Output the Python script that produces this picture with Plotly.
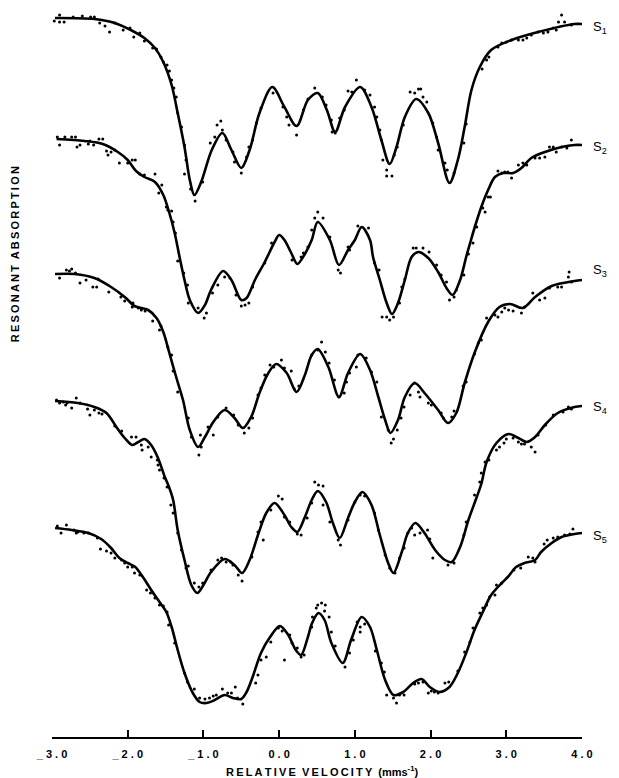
import plotly.graph_objects as go

# Relative velocity (mm/s) vs. resonant absorption (arbitrary units, 0 = baseline,
# positive = more absorption).  Fitted envelopes and measured points per sample.

S1_FIT = [(-2.96, 0.0), (-2.44, 0.1), (-2.17, 0.5), (-1.91, 1.4), (-1.78, 2.0), (-1.64, 3.0),
          (-1.53, 4.4), (-1.42, 6.7), (-1.34, 9.5), (-1.25, 12.9), (-1.18, 16.2), (-1.12, 17.7),
          (-1.03, 16.4), (-0.89, 13.2), (-0.75, 11.5), (-0.63, 13.2), (-0.50, 15.0), (-0.39, 13.2),
          (-0.26, 9.5), (-0.09, 6.9), (0.07, 8.9), (0.23, 10.8), (0.38, 8.2), (0.51, 7.5),
          (0.63, 9.2), (0.74, 11.4), (0.87, 8.9), (1.07, 6.9), (1.22, 8.9), (1.35, 12.2),
          (1.46, 14.6), (1.55, 12.9), (1.66, 9.9), (1.81, 8.1), (1.97, 9.5), (2.10, 12.5),
          (2.25, 16.5), (2.36, 14.2), (2.45, 10.9), (2.54, 7.2), (2.65, 4.9), (2.80, 3.2),
          (3.07, 2.2), (3.42, 1.4), (3.90, 0.6), (4.00, 0.6)]

S2_FIT = [(-2.94, 0.0), (-2.57, 0.2), (-2.33, 0.5), (-2.13, 1.3), (-2.00, 2.1), (-1.89, 3.2),
          (-1.78, 3.8), (-1.64, 4.3), (-1.53, 5.6), (-1.45, 7.4), (-1.38, 9.4), (-1.31, 12.0),
          (-1.25, 14.1), (-1.18, 16.1), (-1.07, 17.4), (-0.98, 16.6), (-0.90, 15.1), (-0.74, 13.2),
          (-0.63, 14.1), (-0.50, 16.1), (-0.43, 15.9), (-0.32, 14.1), (-0.19, 12.3), (-0.06, 10.3),
          (0.00, 9.6), (0.07, 10.1), (0.16, 11.4), (0.24, 12.5), (0.34, 11.5), (0.43, 10.1),
          (0.51, 8.3), (0.67, 10.1), (0.79, 12.6), (0.91, 11.1), (1.00, 10.1), (1.09, 8.8),
          (1.20, 10.1), (1.24, 11.8), (1.33, 14.1), (1.42, 16.4), (1.49, 17.5), (1.57, 16.4),
          (1.66, 14.1), (1.75, 11.8), (1.84, 11.3), (1.97, 11.9), (2.10, 13.3), (2.21, 14.9),
          (2.29, 15.6), (2.39, 14.1), (2.47, 11.8), (2.53, 10.2), (2.58, 8.9), (2.67, 6.8),
          (2.76, 5.1), (2.85, 3.8), (2.96, 3.4), (3.09, 3.4), (3.20, 2.9), (3.33, 1.9),
          (3.51, 1.3), (3.73, 0.8), (3.90, 0.6), (4.00, 0.6)]

S3_FIT = [(-2.96, 0.0), (-2.70, 0.0), (-2.44, 0.4), (-2.22, 1.3), (-2.04, 2.3), (-1.91, 3.2),
          (-1.82, 3.4), (-1.73, 3.6), (-1.62, 4.4), (-1.53, 5.8), (-1.45, 7.9), (-1.36, 10.3),
          (-1.27, 12.6), (-1.18, 15.6), (-1.07, 17.3), (-0.98, 16.3), (-0.87, 14.8), (-0.72, 13.6),
          (-0.59, 14.4), (-0.48, 15.4), (-0.37, 14.3), (-0.26, 11.9), (-0.15, 10.0), (-0.04, 9.0),
          (0.10, 9.9), (0.23, 11.8), (0.34, 10.1), (0.43, 8.1), (0.51, 7.5), (0.65, 9.3),
          (0.79, 12.3), (0.91, 9.9), (1.07, 8.0), (1.20, 9.6), (1.31, 12.3), (1.40, 14.6),
          (1.47, 15.9), (1.57, 14.6), (1.66, 12.3), (1.79, 10.9), (1.92, 11.9), (2.10, 13.6),
          (2.23, 14.9), (2.34, 13.9), (2.45, 10.9), (2.58, 7.9), (2.76, 4.8), (2.91, 3.3),
          (3.05, 3.0), (3.22, 3.4), (3.38, 2.3), (3.60, 1.2), (3.90, 0.7), (4.00, 0.6)]

S4_FIT = [(-2.96, 0.0), (-2.66, 0.2), (-2.44, 0.6), (-2.28, 1.2), (-2.15, 2.6), (-2.04, 3.7),
          (-1.94, 4.4), (-1.86, 4.1), (-1.78, 3.8), (-1.69, 4.4), (-1.60, 5.7), (-1.51, 7.6),
          (-1.46, 8.5), (-1.40, 9.9), (-1.34, 12.9), (-1.25, 15.9), (-1.16, 18.4), (-1.08, 19.2),
          (-1.00, 18.4), (-0.90, 17.1), (-0.72, 15.8), (-0.59, 16.4), (-0.49, 17.2), (-0.39, 15.9),
          (-0.28, 13.4), (-0.17, 11.2), (-0.06, 10.2), (0.07, 11.4), (0.16, 12.6), (0.24, 13.1),
          (0.34, 11.6), (0.43, 9.9), (0.51, 9.0), (0.62, 10.1), (0.71, 12.2), (0.80, 13.7),
          (0.91, 11.7), (1.00, 10.1), (1.10, 9.1), (1.22, 10.4), (1.33, 13.4), (1.44, 16.2),
          (1.51, 17.2), (1.62, 15.1), (1.70, 13.2), (1.80, 12.2), (1.92, 13.2), (2.06, 14.9),
          (2.19, 15.9), (2.28, 16.1), (2.39, 14.6), (2.50, 11.9), (2.61, 9.6), (2.67, 8.3),
          (2.74, 6.1), (2.87, 4.2), (3.03, 3.3), (3.16, 3.7), (3.27, 4.1), (3.38, 3.6),
          (3.51, 2.4), (3.68, 1.2), (3.90, 0.6), (4.00, 0.5)]

S5_FIT = [(-2.96, 0.0), (-2.74, 0.2), (-2.52, 0.5), (-2.35, 1.1), (-2.22, 2.0), (-2.11, 3.0),
          (-2.00, 3.5), (-1.90, 3.9), (-1.80, 4.9), (-1.69, 6.2), (-1.58, 7.4), (-1.49, 8.4),
          (-1.42, 9.9), (-1.34, 12.2), (-1.25, 14.5), (-1.14, 16.5), (-1.05, 17.4), (-0.96, 17.5),
          (-0.85, 17.2), (-0.72, 16.7), (-0.61, 17.0), (-0.50, 17.1), (-0.43, 16.4), (-0.35, 14.9),
          (-0.24, 12.5), (-0.12, 10.9), (0.01, 9.8), (0.12, 10.7), (0.22, 12.2), (0.29, 12.7),
          (0.38, 10.9), (0.43, 9.6), (0.52, 8.5), (0.60, 9.2), (0.69, 11.5), (0.84, 13.5),
          (0.95, 11.2), (1.09, 8.9), (1.20, 9.9), (1.29, 12.2), (1.40, 15.2), (1.51, 16.7),
          (1.64, 16.4), (1.77, 15.5), (1.88, 15.1), (1.99, 15.9), (2.12, 16.4), (2.25, 15.9),
          (2.36, 14.5), (2.47, 12.5), (2.58, 10.2), (2.69, 8.4), (2.80, 6.7), (2.94, 5.5),
          (3.02, 4.9), (3.13, 3.9), (3.24, 3.5), (3.38, 3.2), (3.46, 2.4), (3.60, 1.5),
          (3.73, 0.9), (3.90, 0.6), (4.00, 0.5)]

S1_POINTS = [(-2.97, 0.3), (-2.90, -0.3), (-2.90, 0.4), (-2.84, 0.4), (-2.72, -0.1), (-2.60, -0.2),
             (-2.49, -0.1), (-2.44, -0.1), (-2.37, 0.5), (-2.30, 0.8), (-2.24, 1.4), (-2.17, 0.5),
             (-2.06, 1.2), (-1.97, 1.0), (-1.92, 1.9), (-1.84, 1.5), (-1.78, 2.3), (-1.67, 3.0),
             (-1.62, 3.1), (-1.56, 3.9), (-1.53, 4.4), (-1.48, 4.7), (-1.45, 5.3), (-1.42, 6.2),
             (-1.39, 7.0), (-1.36, 7.9), (-1.34, 9.5), (-1.29, 10.9), (-1.25, 12.7), (-1.23, 14.2),
             (-1.25, 15.6), (-1.17, 17.1), (-1.11, 18.3), (-1.01, 16.4), (-0.91, 12.5), (-0.85, 11.9),
             (-0.82, 10.7), (-0.77, 10.3), (-0.75, 11.2), (-0.70, 12.2), (-0.61, 13.4), (-0.59, 14.4),
             (-0.50, 15.5), (-0.43, 13.9), (-0.40, 12.9), (-0.35, 12.2), (-0.30, 10.5), (-0.24, 9.0),
             (-0.08, 7.5), (0.05, 8.9), (0.10, 9.9), (0.13, 10.7), (0.23, 11.7), (0.32, 9.2),
             (0.38, 8.1), (0.47, 7.0), (0.57, 7.9), (0.62, 8.7), (0.69, 10.2), (0.70, 11.4),
             (0.74, 11.5), (0.80, 10.0), (0.86, 9.2), (0.91, 7.3), (0.96, 7.4), (1.02, 6.2),
             (1.13, 7.2), (1.20, 7.7), (1.26, 8.9), (1.29, 9.9), (1.33, 11.2), (1.35, 12.2),
             (1.37, 14.2), (1.42, 15.2), (1.42, 15.8), (1.49, 15.8), (1.52, 13.7), (1.56, 12.9),
             (1.64, 10.7), (1.73, 7.4), (1.79, 7.5), (1.84, 7.1), (1.87, 7.1), (1.90, 7.9),
             (1.95, 8.4), (2.03, 10.5), (2.08, 11.9), (2.10, 13.2), (2.19, 14.5), (2.22, 15.2),
             (2.31, 15.5), (2.44, 12.5), (2.47, 10.6), (2.68, 5.1), (2.74, 4.2), (2.77, 3.9),
             (2.89, 2.9), (2.94, 2.5), (3.00, 2.4), (3.07, 2.2), (3.16, 2.2), (3.22, 2.2),
             (3.27, 2.0), (3.33, 1.7), (3.42, 1.4), (3.49, 1.5), (3.55, 1.4), (3.62, 1.0),
             (3.66, 1.2), (3.69, 0.4), (3.73, -0.3), (3.77, 0.4), (3.86, 0.7)]

S2_POINTS = [(-2.93, -0.2), (-2.90, 0.6), (-2.83, -0.2), (-2.74, -0.2), (-2.69, -0.2), (-2.67, 0.8),
             (-2.63, 0.6), (-2.52, 0.5), (-2.50, 0.2), (-2.45, 0.6), (-2.38, 0.0), (-2.33, 0.0),
             (-2.28, 1.2), (-2.26, 1.6), (-2.22, 1.3), (-2.17, 1.1), (-2.11, 2.4), (-2.00, 2.4),
             (-1.94, 2.1), (-1.90, 2.1), (-1.84, 3.5), (-1.78, 3.6), (-1.64, 3.5), (-1.59, 5.4),
             (-1.55, 4.6), (-1.49, 6.8), (-1.47, 7.1), (-1.42, 7.2), (-1.40, 8.3), (-1.37, 9.4),
             (-1.34, 12.2), (-1.26, 13.4), (-1.21, 14.6), (-1.20, 16.4), (-1.07, 16.9), (-0.99, 17.9),
             (-0.96, 17.4), (-0.88, 15.4), (-0.81, 14.6), (-0.72, 13.8), (-0.65, 13.9), (-0.57, 15.6),
             (-0.50, 16.7), (-0.45, 16.6), (-0.40, 16.4), (-0.35, 14.8), (-0.19, 12.4), (-0.10, 10.4),
             (0.17, 12.1), (0.29, 11.8), (0.32, 11.4), (0.38, 10.8), (0.43, 9.1), (0.47, 7.9),
             (0.51, 7.3), (0.58, 7.9), (0.67, 9.8), (0.78, 13.1), (0.81, 13.4), (0.91, 10.8),
             (0.93, 11.1), (1.04, 8.7), (1.18, 8.9), (1.26, 12.4), (1.32, 13.1), (1.36, 17.8),
             (1.42, 17.8), (1.46, 18.1), (1.51, 17.8), (1.59, 16.4), (1.62, 14.8), (1.66, 14.0),
             (1.77, 10.9), (1.81, 10.9), (1.90, 10.9), (1.98, 11.3), (2.08, 12.6), (2.14, 13.6),
             (2.21, 14.3), (2.25, 16.1), (2.31, 15.8), (2.34, 15.1), (2.44, 13.6), (2.50, 11.5),
             (2.56, 10.4), (2.61, 8.8), (2.69, 6.9), (2.72, 7.3), (2.76, 5.8), (2.79, 5.8),
             (2.89, 3.2), (2.94, 3.4), (2.98, 3.3), (3.02, 3.3), (3.07, 3.9), (3.16, 2.6),
             (3.22, 2.4), (3.27, 2.6), (3.38, 1.9), (3.44, 1.9), (3.51, 1.8), (3.57, 0.8),
             (3.62, 0.8), (3.66, 1.3), (3.73, 0.8), (3.80, 0.9), (3.86, 0.1)]

S3_POINTS = [(-2.90, 0.4), (-2.81, -0.4), (-2.77, -0.3), (-2.74, -0.5), (-2.69, -0.1), (-2.63, 0.9),
             (-2.55, 0.6), (-2.46, 1.3), (-2.39, 0.5), (-2.41, 1.3), (-2.25, 1.8), (-2.09, 2.3),
             (-2.04, 2.7), (-1.93, 2.9), (-1.94, 3.3), (-1.86, 3.4), (-1.82, 3.6), (-1.77, 3.7),
             (-1.67, 4.7), (-1.58, 5.6), (-1.56, 5.2), (-1.47, 7.3), (-1.42, 8.1), (-1.40, 9.7),
             (-1.34, 11.8), (-1.20, 14.4), (-1.16, 16.3), (-1.06, 18.1), (-1.03, 17.3), (-1.04, 16.1),
             (-0.94, 15.3), (-0.87, 16.1), (-0.81, 14.3), (-0.70, 13.4), (-0.60, 14.1), (-0.54, 15.1),
             (-0.46, 15.9), (-0.40, 15.4), (-0.35, 14.4), (-0.28, 12.1), (-0.24, 11.4), (-0.19, 10.1),
             (-0.12, 9.1), (-0.07, 9.3), (0.03, 8.6), (0.07, 9.4), (0.16, 9.7), (0.20, 11.5),
             (0.26, 11.2), (0.43, 8.1), (0.51, 7.6), (0.56, 6.8), (0.61, 7.8), (0.66, 8.9),
             (0.73, 10.6), (0.79, 12.3), (0.86, 11.9), (0.89, 10.8), (0.93, 9.9), (1.02, 9.3),
             (1.04, 8.1), (1.15, 8.4), (1.22, 9.8), (1.29, 10.8), (1.35, 14.3), (1.44, 15.6),
             (1.48, 16.9), (1.51, 16.5), (1.56, 15.6), (1.61, 14.4), (1.65, 13.3), (1.73, 12.1),
             (1.79, 10.9), (1.84, 11.8), (1.86, 12.3), (1.97, 12.9), (2.01, 13.1), (2.14, 13.9),
             (2.17, 14.4), (2.28, 14.3), (2.31, 13.7), (2.43, 11.2), (2.47, 10.8), (2.58, 8.0),
             (2.63, 6.9), (2.67, 6.6), (2.74, 4.4), (2.85, 4.1), (2.89, 4.3), (2.94, 3.8),
             (2.98, 3.4), (3.03, 3.6), (3.09, 3.7), (3.20, 3.9), (3.24, 3.3), (3.35, 1.9),
             (3.44, 2.6), (3.51, 2.4), (3.57, 1.4), (3.68, 1.3), (3.73, 1.3), (3.82, 0.3),
             (3.83, -0.2), (3.86, 0.8)]

S4_POINTS = [(-2.94, -0.1), (-2.90, 0.2), (-2.85, 0.1), (-2.82, 0.4), (-2.80, 0.2), (-2.74, 0.7),
             (-2.68, -0.3), (-2.63, 0.2), (-2.53, 0.8), (-2.50, 1.4), (-2.44, 0.9), (-2.38, 1.2),
             (-2.34, 1.3), (-2.17, 2.5), (-2.08, 3.0), (-1.95, 3.6), (-1.89, 3.6), (-1.82, 4.4),
             (-1.81, 4.9), (-1.73, 4.6), (-1.69, 5.6), (-1.61, 5.9), (-1.60, 6.4), (-1.58, 6.9),
             (-1.52, 7.7), (-1.48, 8.6), (-1.43, 10.4), (-1.40, 11.2), (-1.34, 13.2), (-1.29, 14.9),
             (-1.23, 16.7), (-1.20, 16.5), (-1.12, 18.2), (-1.06, 18.6), (-1.01, 18.2), (-0.90, 16.9),
             (-0.81, 15.9), (-0.76, 15.7), (-0.70, 16.1), (-0.64, 16.1), (-0.61, 16.4), (-0.54, 17.4),
             (-0.49, 18.0), (-0.36, 15.6), (-0.28, 13.1), (-0.21, 13.9), (-0.24, 12.1), (-0.11, 10.9),
             (-0.01, 9.5), (0.04, 9.8), (0.07, 11.6), (0.14, 12.1), (0.24, 13.3), (0.29, 13.4),
             (0.37, 11.7), (0.43, 10.2), (0.47, 8.1), (0.52, 8.4), (0.58, 8.5), (0.58, 10.4),
             (0.67, 12.1), (0.78, 13.9), (0.81, 14.4), (0.91, 11.9), (1.00, 10.1), (1.07, 9.4),
             (1.13, 9.5), (1.26, 11.2), (1.31, 12.9), (1.40, 15.4), (1.46, 16.7), (1.53, 17.2),
             (1.59, 15.7), (1.65, 14.7), (1.70, 13.2), (1.75, 12.7), (1.79, 13.4), (1.86, 13.2),
             (1.96, 12.9), (1.99, 13.8), (2.03, 15.7), (2.23, 16.4), (2.31, 16.2), (2.44, 13.4),
             (2.47, 12.1), (2.58, 9.4), (2.65, 8.1), (2.67, 7.2), (2.72, 6.1), (2.77, 5.9),
             (2.87, 4.9), (2.91, 4.6), (2.97, 4.2), (3.00, 3.8), (3.09, 3.7), (3.16, 4.1),
             (3.20, 4.3), (3.24, 4.3), (3.33, 4.6), (3.38, 5.1), (3.42, 3.4), (3.52, 2.4),
             (3.62, 1.4), (3.75, 1.1), (3.82, 0.6), (3.86, 0.8)]

S5_POINTS = [(-2.93, -0.2), (-2.88, 0.5), (-2.81, -0.3), (-2.71, 0.2), (-2.68, 0.5), (-2.66, 0.4),
             (-2.58, 0.5), (-2.52, 0.5), (-2.40, 1.0), (-2.36, 2.1), (-2.28, 2.3), (-2.22, 2.5),
             (-2.17, 3.0), (-2.08, 3.2), (-2.04, 3.5), (-2.00, 3.9), (-1.94, 3.9), (-1.91, 4.5),
             (-1.84, 4.7), (-1.75, 6.2), (-1.70, 6.5), (-1.64, 7.0), (-1.58, 7.7), (-1.53, 7.8),
             (-1.48, 8.4), (-1.46, 9.7), (-1.38, 11.5), (-1.25, 14.5), (-1.21, 15.4), (-1.12, 16.1),
             (-1.05, 17.0), (-0.98, 17.1), (-0.92, 17.0), (-0.87, 16.8), (-0.83, 16.7), (-0.75, 16.1),
             (-0.68, 16.5), (-0.63, 16.5), (-0.58, 15.9), (-0.55, 17.0), (-0.48, 17.6), (-0.31, 15.5),
             (-0.28, 14.7), (-0.24, 13.2), (-0.17, 12.9), (-0.11, 11.4), (-0.01, 10.0), (0.04, 10.3),
             (0.14, 10.7), (0.17, 11.5), (0.07, 13.2), (0.24, 12.0), (0.29, 12.9), (0.33, 12.7),
             (0.43, 9.9), (0.44, 8.9), (0.49, 8.0), (0.51, 7.7), (0.56, 7.5), (0.61, 7.7),
             (0.60, 8.3), (0.66, 8.9), (0.69, 10.4), (0.74, 11.8), (0.87, 13.9), (0.93, 12.5),
             (0.98, 11.2), (1.03, 9.4), (1.07, 9.9), (1.13, 9.6), (1.07, 10.4), (1.27, 12.3),
             (1.35, 13.5), (1.39, 14.4), (1.42, 16.7), (1.51, 17.0), (1.55, 17.5), (1.59, 16.7),
             (1.65, 16.7), (1.79, 15.6), (1.84, 15.5), (1.90, 15.4), (1.97, 16.5), (2.01, 16.3),
             (2.05, 16.4), (2.10, 16.5), (2.19, 15.5), (2.24, 15.4), (2.36, 14.3), (2.45, 12.4),
             (2.52, 11.4), (2.56, 10.0), (2.65, 8.5), (2.69, 8.0), (2.74, 7.7), (2.78, 6.9),
             (2.85, 6.7), (2.87, 5.7), (2.94, 5.5), (3.10, 4.2), (3.19, 4.0), (3.29, 2.9),
             (3.35, 3.0), (3.38, 3.4), (3.50, 1.6), (3.54, 1.2), (3.62, 1.0), (3.68, 0.9),
             (3.77, 0.7), (3.84, 0.6), (3.88, 0.1)]

SAMPLE_LABELS = ["S<sub>1</sub>", "S<sub>2</sub>", "S<sub>3</sub>", "S<sub>4</sub>", "S<sub>5</sub>"]
# vertical stacking offset of each spectrum (absorption axis points downward)
STACK_OFFSETS = [1.8, 13.9, 27.4, 40.1, 52.8]

VELOCITY_TICKS = [-3, -2, -1, 0, 1, 2, 3, 4]
VELOCITY_TICK_TEXT = ["_ 3.0", "_ 2.0", "_ 1.0", "0.0", "1.0", "2.0", "3.0", "4.0"]

X_TITLE = "RELATIVE  VELOCITY  (mms<sup>-1</sup>)"
Y_TITLE = "RESONANT  ABSORPTION"

THIN = "\u2009"


def spaced(text):
    """Typewriter-like letter spacing for the capital-letter titles."""
    return THIN.join(text)


def spaced_tick(text):
    return " ".join(text.replace("_ ", "_"))


fits = [S1_FIT, S2_FIT, S3_FIT, S4_FIT, S5_FIT]
points = [S1_POINTS, S2_POINTS, S3_POINTS, S4_POINTS, S5_POINTS]
label_nudge = [0.3, 0.2, -1.0, 0.1, 0.3]

fig = go.Figure()
for fit, pts, off in zip(fits, points, STACK_OFFSETS):
    fv, fa = zip(*fit)
    fig.add_trace(go.Scatter(
        x=list(fv), y=[off + a for a in fa], mode="lines",
        line=dict(color="black", width=2.6, shape="spline", smoothing=0.9),
        hoverinfo="skip"))
    pv, pa = zip(*pts)
    fig.add_trace(go.Scatter(
        x=list(pv), y=[off + a for a in pa], mode="markers",
        marker=dict(color="black", size=3, symbol="circle", line=dict(width=0)),
        hoverinfo="skip"))

annotations = []
for lab, fit, off, nudge in zip(SAMPLE_LABELS, fits, STACK_OFFSETS, label_nudge):
    annotations.append(dict(
        text=lab, x=1.017, xref="paper", xanchor="left",
        y=off + fit[-1][1] + nudge, yref="y", yanchor="middle",
        showarrow=False, font=dict(family="Liberation Sans", size=13, color="black")))

x_title_words = X_TITLE.split("  ")
x_title = "  ".join([spaced(x_title_words[0]), spaced(x_title_words[1]), x_title_words[2]])
annotations.append(dict(
    text="<b>" + x_title + "</b>",
    x=0.51, xref="paper", xanchor="center",
    y=-0.046, yref="paper", yanchor="middle",
    showarrow=False, font=dict(family="Liberation Sans", size=11, color="black")))
annotations.append(dict(
    text="<b>" + "  ".join(spaced(w) for w in Y_TITLE.split("  ")) + "</b>", textangle=-90,
    x=-0.070, xref="paper", xanchor="center",
    y=0.655, yref="paper", yanchor="middle",
    showarrow=False, font=dict(family="Liberation Sans", size=11, color="black")))

fig.update_layout(
    width=619, height=778,
    margin=dict(l=52, r=37, t=0, b=41),
    paper_bgcolor="white", plot_bgcolor="white",
    showlegend=False,
    annotations=annotations,
    xaxis=dict(
        range=[-3, 4], tickvals=VELOCITY_TICKS,
        ticktext=[spaced_tick(t) for t in VELOCITY_TICK_TEXT],
        ticks="inside", ticklen=7, tickwidth=1.5, tickcolor="black",
        showline=True, linecolor="black", linewidth=2,
        showgrid=False, zeroline=False, ticklabelstandoff=6,
        tickfont=dict(family="Liberation Sans", size=11, color="black", weight="bold"),
    ),
    yaxis=dict(range=[73.7, 0], visible=False, showgrid=False, zeroline=False),
)

fig.write_html("out.html")
